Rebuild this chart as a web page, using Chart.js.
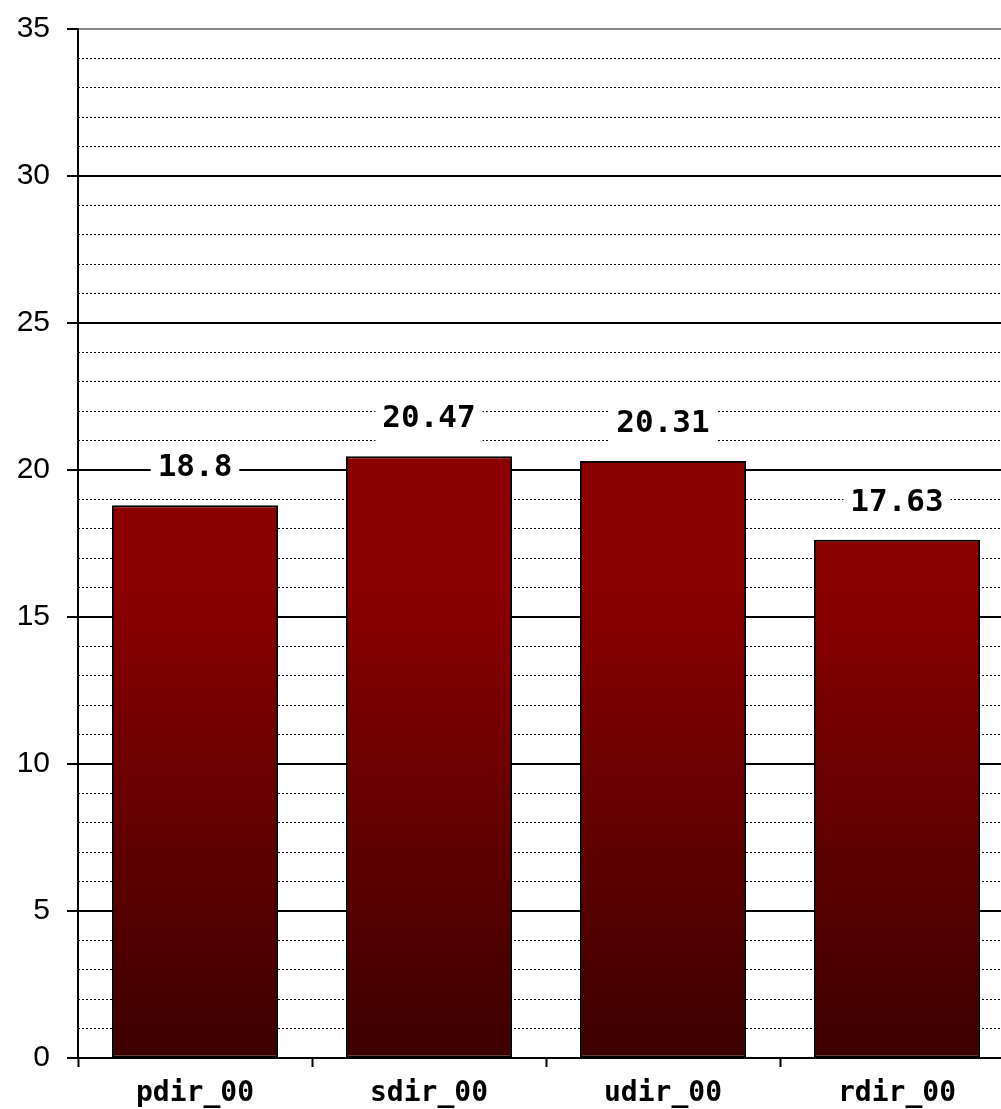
<!DOCTYPE html>
<html>
<head>
<meta charset="utf-8">
<script src="https://cdn.jsdelivr.net/npm/chart.js@4/dist/chart.umd.min.js"></script>
<style>
  html, body { margin: 0; padding: 0; background: #fff; overflow: hidden; }
  canvas { display: block; }
</style>
</head>
<body>
<canvas id="c" width="1040" height="1109"></canvas>
<script>
// Run names and their measured values
const categories = ['pdir_00', 'sdir_00', 'udir_00', 'rdir_00'];
const values = [18.8, 20.47, 20.31, 17.63];
const valueLabels = ['18.8', '20.47', '20.31', '17.63'];
const yMin = 0;
const yMax = 35;
const majorStep = 5;
const minorStep = 1;

const labelFont = 'bold 31px "DejaVu Sans Mono"';

// Dark red bar fill that deepens toward the baseline
function barFill(ctx) {
  const chart = ctx.chart;
  const area = chart.chartArea;
  if (!area) return '#8b0000';
  const y = chart.scales.y;
  const g = chart.ctx.createLinearGradient(0, y.getPixelForValue(16), 0, y.getPixelForValue(0));
  g.addColorStop(0, '#8b0000');
  g.addColorStop(1, '#3c0000');
  return g;
}

// Value captions on white boxes above each bar
const valueCaptions = {
  id: 'valueCaptions',
  afterDatasetsDraw(chart) {
    const c = chart.ctx;
    const meta = chart.getDatasetMeta(0);
    c.save();
    c.font = labelFont;
    c.textAlign = 'center';
    c.textBaseline = 'middle';
    meta.data.forEach((bar, i) => {
      const text = valueLabels[i];
      const w = c.measureText(text).width + 14;
      const h = 46;
      const cx = bar.x;
      const cy = bar.y - 38;
      c.fillStyle = '#fff';
      c.fillRect(cx - w / 2, cy - h / 2, w, h);
      c.fillStyle = '#000';
      c.fillText(text, cx, cy + 1);
    });
    c.restore();
  }
};

function fixVertical(scale, width) {
  scale.width = width;
  scale.paddingTop = 0;
  scale.paddingBottom = 0;
}

new Chart(document.getElementById('c'), {
  type: 'bar',
  data: {
    labels: categories,
    datasets: [{
      data: values,
      backgroundColor: barFill,
      borderColor: '#000',
      borderWidth: 2,
      borderSkipped: false,
      categoryPercentage: 1,
      barPercentage: 0.71
    }]
  },
  options: {
    responsive: false,
    animation: false,
    layout: { padding: { top: 29, right: 26, left: 0, bottom: 0 } },
    plugins: { legend: { display: false }, tooltip: { enabled: false } },
    scales: {
      x: {
        offset: true,
        grid: {
          offset: true,
          drawOnChartArea: false,
          tickLength: 9,
          tickWidth: 2,
          tickColor: '#000'
        },
        border: { color: '#000', width: 2 },
        ticks: {
          color: '#000',
          padding: 10,
          font: { family: 'DejaVu Sans Mono', weight: 'bold', size: 28 }
        },
        afterFit(scale) { scale.height = 51; }
      },
      yMinor: {
        position: 'left',
        min: yMin,
        max: yMax,
        ticks: { display: false, stepSize: minorStep },
        grid: {
          drawTicks: false,
          lineWidth: 1,
          color: (ctx) => (ctx.tick && ctx.tick.value % majorStep === 0) ? 'rgba(0,0,0,0)' : '#000'
        },
        border: { display: false, dash: [2, 2], dashOffset: 0 },
        afterFit(scale) { fixVertical(scale, 0); }
      },
      y: {
        position: 'left',
        min: yMin,
        max: yMax,
        ticks: {
          stepSize: majorStep,
          color: '#000',
          padding: 17,
          font: { family: 'Liberation Sans', size: 30 }
        },
        grid: {
          tickLength: 11,
          lineWidth: 2,
          color: (ctx) => (ctx.tick && ctx.tick.value === yMax) ? '#8a8a8a' : '#000',
          tickColor: '#000'
        },
        border: { color: '#000', width: 2 },
        afterFit(scale) { fixVertical(scale, 78); }
      }
    }
  },
  plugins: [valueCaptions]
});
</script>
</body>
</html>
